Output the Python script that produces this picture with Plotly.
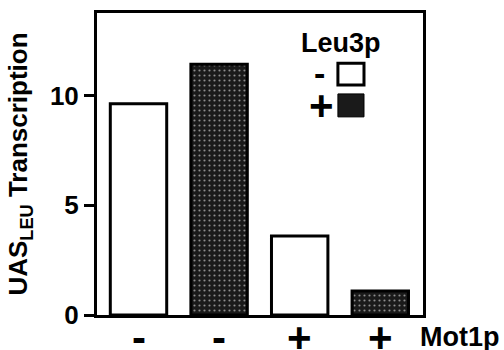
import plotly.graph_objects as go

categories = ["c1", "c2", "c3", "c4"]
tick_labels = ["-", "-", "+", "+"]
values = [9.62, 11.42, 3.6, 1.09]
leu3p = ["-", "+", "-", "+"]
y_ticks = [0, 5, 10]

DARK = "#1a1a1a"
colors = ["white" if l == "-" else DARK for l in leu3p]
patterns = ["" if l == "-" else "." for l in leu3p]
FAM = "Liberation Sans, Arial, sans-serif"

fig = go.Figure()
fig.add_trace(go.Bar(
    x=categories, y=values, width=0.7,
    marker=dict(color=colors, line=dict(color="black", width=3),
                pattern=dict(shape=patterns, fgcolor="#5a5a5a", size=5,
                             solidity=0.15, fillmode="overlay")),
    showlegend=False,
))

font = dict(family=FAM, size=27, color="black", weight="bold")
sign_font = dict(family=FAM, size=42, color="black", weight="bold")

fig.update_layout(
    width=504, height=350,
    margin=dict(l=97, r=81, t=13, b=35),
    paper_bgcolor="white", plot_bgcolor="white",
    font=font,
    xaxis=dict(
        range=[-0.515, 3.53], automargin=False,
        tickvals=categories, showticklabels=False,
        ticks="", showline=True, linecolor="black", linewidth=3, mirror=True,
        showgrid=False, zeroline=False,
    ),
    yaxis=dict(
        range=[0, 13.76], automargin=False,
        tickvals=y_ticks,
        ticks="outside", ticklen=10, tickwidth=3, tickcolor="black",
        tickfont=dict(size=26, family=FAM, weight="bold"),
        showline=True, linecolor="black", linewidth=3, mirror=True,
        showgrid=False, zeroline=False,
        title=dict(text="UAS<sub>LEU</sub> Transcription",
                   font=dict(size=26, family=FAM, weight="bold")),
    ),
)

# category tick labels (Mot1p status)
for c, t in zip(categories, tick_labels):
    fig.add_annotation(text=t, x=c, xref="x", yref="paper", y=-0.073,
                       xanchor="center", yanchor="middle", showarrow=False,
                       font=sign_font, height=30)

fig.add_annotation(text="Mot1p", xref="paper", yref="paper", x=0.985, y=-0.073,
                   xanchor="left", yanchor="middle", showarrow=False, font=font)

# legend
fig.add_annotation(text="Leu3p", xref="paper", yref="paper", x=0.748, y=0.90,
                   xanchor="center", yanchor="middle", showarrow=False, font=font)
fig.add_annotation(text="-", xref="paper", yref="paper", x=0.684, y=0.801,
                   xanchor="center", yanchor="middle", showarrow=False,
                   font=dict(size=34, family=FAM, weight="bold"), height=24)
fig.add_annotation(text="+", xref="paper", yref="paper", x=0.690, y=0.695,
                   xanchor="center", yanchor="middle", showarrow=False,
                   font=sign_font, height=30)
fig.add_shape(type="rect", xref="paper", yref="paper", x0=0.739, x1=0.819, y0=0.762, y1=0.834,
              line=dict(color="black", width=3), fillcolor="white")
fig.add_shape(type="rect", xref="paper", yref="paper", x0=0.739, x1=0.819, y0=0.656, y1=0.732,
              line=dict(color="black", width=1), fillcolor=DARK)

fig.write_html("out.html", config={"displayModeBar": False},
               post_script="document.body.style.margin='0';")
